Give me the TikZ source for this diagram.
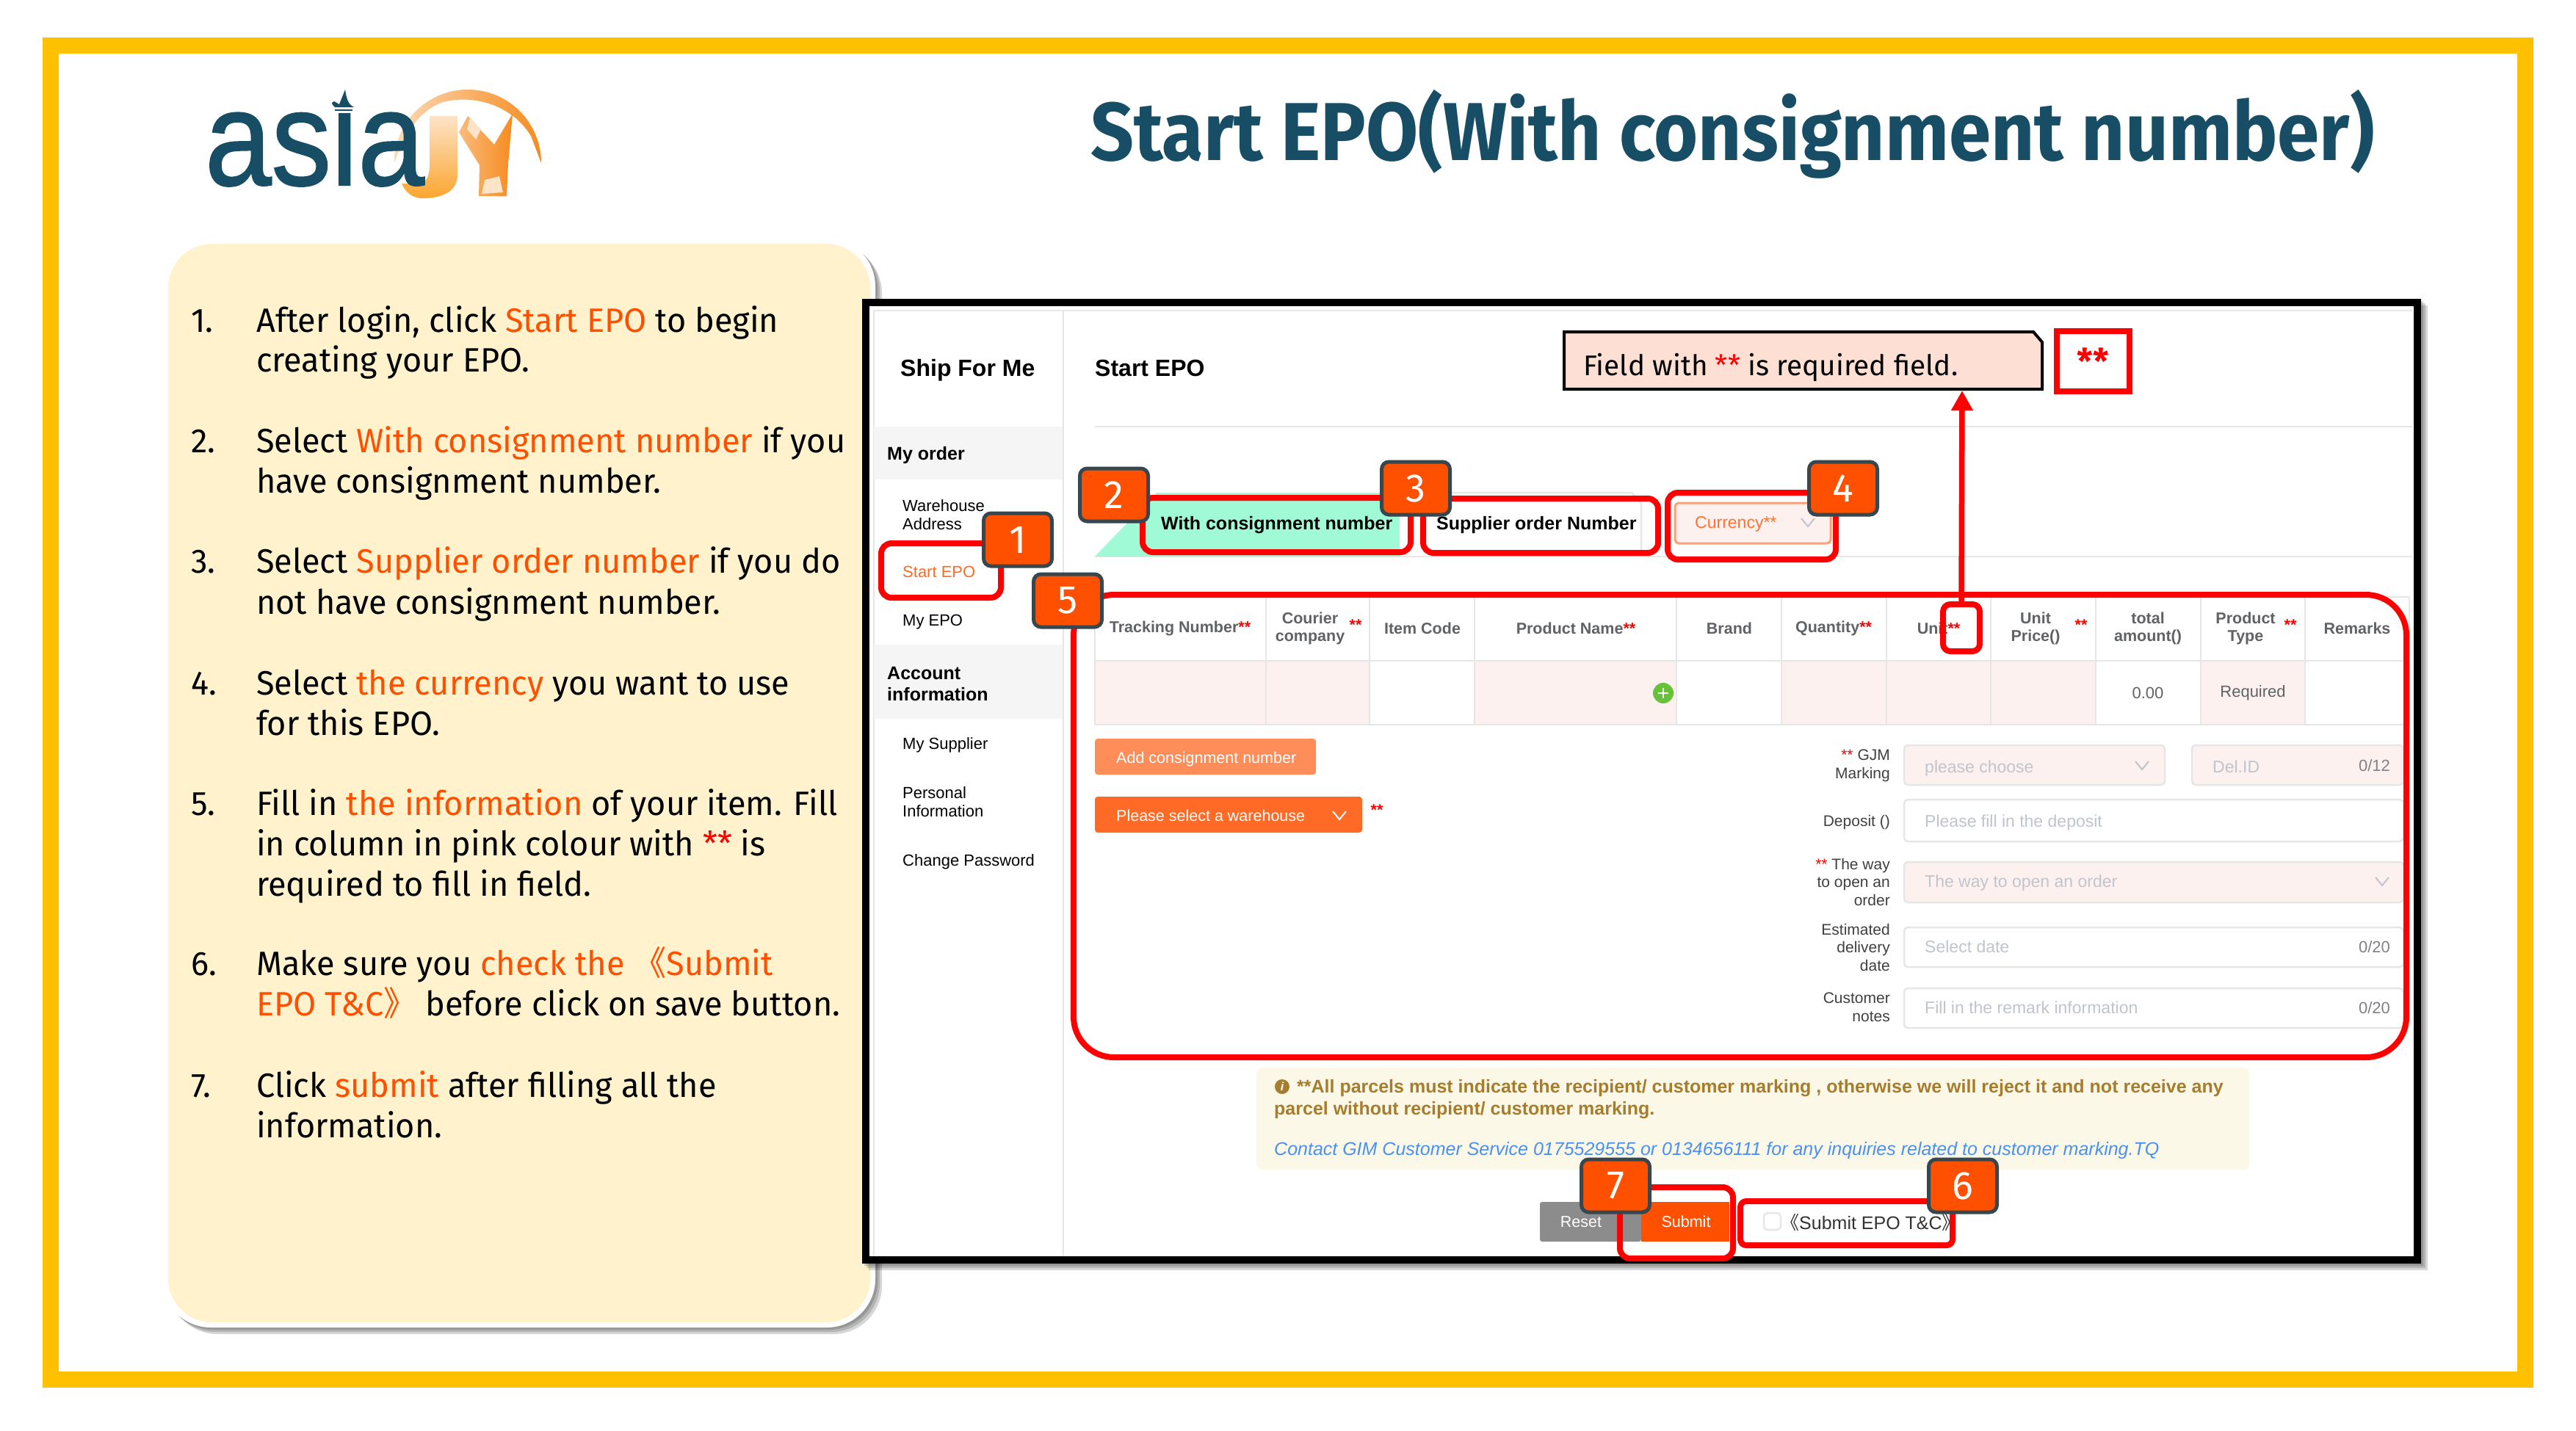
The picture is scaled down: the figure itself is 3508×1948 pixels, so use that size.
\documentclass[tikz,border=0pt]{standalone}
\usepackage{fontspec}
\setmainfont{Fira Sans}
\newfontfamily\uifont{Liberation Sans}
\newfontfamily\logofont[FakeBold=1.2]{Liberation Sans}
\newfontfamily\cjk{Noto Sans CJK SC}
\usetikzlibrary{positioning,arrows.meta}
\definecolor{goldline}{HTML}{FFC000}
\definecolor{creampanel}{HTML}{FFF2CC}
\definecolor{titleblue}{HTML}{174E66}
\definecolor{stepred}{HTML}{FF0000}
\definecolor{steporange}{HTML}{FF5000}
\definecolor{badgeedge}{HTML}{37474F}
\definecolor{tabgreen}{HTML}{A0FAD6}
\definecolor{pinkcell}{HTML}{FDF1F0}
\definecolor{cellline}{HTML}{E6E6E6}
\definecolor{headgrey}{HTML}{606266}
\definecolor{holdgrey}{HTML}{C0C4CC}
\definecolor{noticefill}{HTML}{FCF8E8}
\definecolor{noticetext}{HTML}{A67C2D}
\definecolor{noticeblue}{HTML}{4A90F0}
\definecolor{calloutfill}{HTML}{FDE0D3}
\definecolor{peach}{HTML}{FDE3C8}
\definecolor{globeorange}{HTML}{F68B1F}
\definecolor{globeamber}{HTML}{FBA62F}
\definecolor{plusgreen}{HTML}{67C23A}
\tikzset{
  px/.style={x=1pt,y=-1pt},
  bodyline/.style={anchor=mid west,inner sep=0pt,yshift=-13pt,transform shape,xscale=.98,font=\fontsize{46}{50}\selectfont},
  stepnum/.style={bodyline},
  side/.style={anchor=west,inner sep=0pt,yshift=-4pt,align=left,font=\uifont\fontsize{22}{24.5}\selectfont},
  sidehead/.style={side,font=\uifont\bfseries\fontsize{25}{29}\selectfont},
  pagehead/.style={anchor=mid west,inner sep=0pt,yshift=-9pt,font=\uifont\bfseries\fontsize{32}{36}\selectfont},
  tabtext/.style={anchor=mid west,inner sep=0pt,yshift=-6pt,font=\uifont\bfseries\fontsize{25}{29}\selectfont},
  colhead/.style={inner sep=0pt,align=center,text=headgrey,font=\uifont\bfseries\fontsize{21.5}{24.5}\selectfont},
  formlabel/.style={anchor=east,inner sep=0pt,align=right,text=black!75,font=\uifont\fontsize{21}{24.5}\selectfont},
  holder/.style={anchor=mid west,inner sep=0pt,yshift=-6pt,text=holdgrey,font=\uifont\fontsize{23}{26}\selectfont},
  counter/.style={anchor=mid east,inner sep=0pt,yshift=-6pt,text=headgrey!80,font=\uifont\fontsize{22}{26}\selectfont},
  btntext/.style={inner sep=0pt,text=white,font=\uifont\fontsize{21.5}{26}\selectfont},
  noticeline/.style={anchor=mid west,inner sep=0pt,yshift=-6pt,font=\uifont\fontsize{25}{28}\selectfont},
  badge/.style={draw=badgeedge,fill=steporange,line width=5pt,rounded corners=10pt,minimum width=93pt,minimum height=72pt,
    inner sep=0pt,text=white,font=\fontsize{54}{56}\selectfont},
  redbox/.style={draw=stepred,line width=8pt,rounded corners=14pt},
  field/.style={draw=cellline,line width=2.5pt,rounded corners=5pt},
  pinkfield/.style={field,fill=pinkcell},
  rule/.style={draw=cellline,line width=2.5pt},
  softdrop/.style={fill=black,opacity=.16,rounded corners=#1},
  chevron/.style={draw=#1,line width=2pt}
}
\newcommand{\hi}[1]{{\color{steporange}#1}}
\newcommand{\req}{{\color{stepred}**}}
\begin{document}
\begin{tikzpicture}[px,>={Triangle[length=27pt,width=28pt]}]
\useasboundingbox (0,0) rectangle (3508,1948);
\draw[goldline,line width=22pt] (69,62) rectangle (3439,1879);

\shade[left color=peach!90!globeorange,right color=globeorange]
  (537,222) arc[start angle=180,end angle=360,radius=100] -- (723,185)
  .. controls (695,140) and (640,128) .. (600,140) .. controls (565,155) and (548,190) .. (537,222) -- cycle;
\shade[top color=peach,bottom color=globeamber]
  (585,158) -- (623,158) -- (623,240) .. controls (622,262) and (600,270) .. (575,270)
  .. controls (562,270) and (552,262) .. (547,250) -- (570,250) .. controls (580,250) and (585,240) .. (585,225) -- cycle;
\shade[left color=peach!55!globeorange,right color=globeorange]
  (637,158) -- (673,197) -- (698,155) -- (692,223) -- (690,267) -- (652,267) -- (653,225) -- (625,180) -- cycle;
\fill[peach] (660,245) -- (680,240) -- (685,262) -- (656,264) -- cycle;
\fill[peach] (640,160) -- (655,176) -- (648,190) -- (636,176) -- cycle;
\node[anchor=base west,inner sep=0pt,text=titleblue,transform shape,xscale=.89,font=\logofont\fontsize{183}{183}\selectfont] (logoasia) at (279,252) {asia};
\fill[white] (448,108) rectangle (488,153);
\fill[titleblue] (470,122) .. controls (472,135) and (474,142) .. (482,146) -- (456,146) .. controls (452,142) and (450,140) .. (455,138) -- (462,142) -- cycle;
\draw[titleblue,line width=2pt] (456,150) -- (480,150);

\node[anchor=base west,inner sep=0pt,text=titleblue,transform shape,xscale=.92,font=\bfseries\fontsize{112}{116}\selectfont] (title) at (1485,218) {Start EPO(With consignment number)};

\foreach \d in {9,6,3}
  \fill[softdrop=66pt] (221+\d,324+\d) rectangle (1192+\d,1808+\d);
\fill[white,rounded corners=66pt] (221,324) rectangle (1192,1808);
\fill[creampanel,rounded corners=60pt] (229,332) rectangle (1185,1801);

\node[stepnum] (n1) at (260,437) {1.};
\node[bodyline] (l1a) at (349,437) {After login, click \hi{Start EPO} to begin};
\node[bodyline] (l1b) at (349,491) {creating your EPO.};
\node[stepnum] (n2) at (260,601) {2.};
\node[bodyline] (l2a) at (349,601) {Select \hi{With consignment number} if you};
\node[bodyline] (l2b) at (349,656) {have consignment number.};
\node[stepnum] (n3) at (260,765) {3.};
\node[bodyline] (l3a) at (349,765) {Select \hi{Supplier order number} if you do};
\node[bodyline] (l3b) at (349,821) {not have consignment number.};
\node[stepnum] (n4) at (260,931) {4.};
\node[bodyline] (l4a) at (349,931) {Select \hi{the currency} you want to use};
\node[bodyline] (l4b) at (349,986) {for this EPO.};
\node[stepnum] (n5) at (260,1095) {5.};
\node[bodyline] (l5a) at (349,1095) {Fill in \hi{the information} of your item. Fill};
\node[bodyline] (l5b) at (349,1150) {in column in pink colour with \req{} is};
\node[bodyline] (l5c) at (349,1205) {required to fill in field.};
\node[stepnum] (n6) at (260,1313) {6.};
\node[bodyline] (l6a) at (349,1313) {Make sure you \hi{check the {\cjk 《}Submit}};
\node[bodyline] (l6b) at (349,1368) {\hi{EPO T\&C{\cjk 》}} before click on save button.};
\node[stepnum] (n7) at (260,1479) {7.};
\node[bodyline] (l7a) at (349,1479) {Click \hi{submit} after filling all the};
\node[bodyline] (l7b) at (349,1534) {information.};

\foreach \d in {9,6,3}
  \fill[softdrop=0pt] (1174+\d,407+\d) rectangle (3297+\d,1721+\d);
\fill[white] (1178,412) rectangle (3292,1716);

\draw[rule] (1190,423) -- (3285,423);
\draw[rule] (1190,423) -- (1190,1711);
\draw[rule] (1448,423) -- (1448,1711);
\draw[rule] (1491,581) -- (3285,581);
\draw[rule] (1491,758) -- (3285,758);
\fill[black!4] (1190,581) rectangle (1447,653);
\fill[black!4] (1190,878) rectangle (1447,979);

\node[pagehead] (shipforme) at (1226,501) {Ship For Me};
\node[pagehead] (startepo) at (1491,501) {Start EPO};
\node[sidehead] (myorder) at (1208,616) {My order};
\node[side] (warehouse) at (1229,697) {Warehouse\\Address};
\node[side,text=steporange!85] (sidestart) at (1229,775) {Start EPO};
\node[side] (myepo) at (1229,843) {My EPO};
\node[sidehead] (account) at (1208,928) {Account\\information};
\node[side] (supplier) at (1229,1011) {My Supplier};
\node[side] (personal) at (1229,1088) {Personal\\Information};
\node[side] (password) at (1229,1170) {Change Password};

\fill[tabgreen] (1491,758) -- (1575,671) -- (1906,671) -- (1906,758) -- cycle;
\draw[rule] (1906,671) -- (2222,671) -- (2235,685) -- (2235,758);
\node[tabtext] (withtab) at (1581,713) {With consignment number};
\node[tabtext] (suppliertab) at (1956,713) {Supplier order Number};

\draw[draw=steporange!55,fill=pinkcell,line width=3pt,rounded corners=5pt] (2281,685) rectangle (2493,740);
\node[anchor=mid west,inner sep=0pt,yshift=-6pt,text=steporange!80,font=\uifont\fontsize{23}{26}\selectfont] (currency) at (2308,711) {Currency**};
\draw[chevron=holdgrey] (2453,706) -- (2462,717) -- (2471,706);

\fill[pinkcell] (1491,900) rectangle (1865,987);
\fill[pinkcell] (2008,900) rectangle (2283,987);
\fill[pinkcell] (2426,900) rectangle (2854,987);
\fill[pinkcell] (2997,900) rectangle (3139,987);
\draw[rule] (1491,813) -- (3281,813);
\draw[rule] (1491,900) -- (3281,900);
\draw[rule] (1491,987) -- (3281,987);
\foreach \c in {1491,1724,1865,2008,2283,2426,2569,2711,2854,2997,3139,3281}
  \draw[rule] (\c,813) -- (\c,987);

\node[colhead] (htrack) at (1607,856) {Tracking Number\req};
\node[colhead] (hcourier) at (1784,856) {Courier\\company};
\node[colhead,text=stepred] (hcourierreq) at (1846,851) {**};
\node[colhead] (hitem) at (1937,856) {Item Code};
\node[colhead] (hproduct) at (2146,856) {Product Name\req};
\node[colhead] (hbrand) at (2355,856) {Brand};
\node[colhead] (hqty) at (2497,856) {Quantity\req};
\node[colhead] (hunit) at (2640,856) {Unit\req};
\node[colhead] (hprice) at (2772,856) {Unit\\Price()};
\node[colhead,text=stepred] (hpricereq) at (2834,851) {**};
\node[colhead] (htotal) at (2925,856) {total\\amount()};
\node[colhead] (htype) at (3058,856) {Product\\Type};
\node[colhead,text=stepred] (htypereq) at (3119,851) {**};
\node[colhead] (hremarks) at (3210,856) {Remarks};
\node[colhead,font=\uifont\fontsize{22}{26}\selectfont] (rtotal) at (2925,944) {0.00};
\node[colhead,font=\uifont\fontsize{22}{26}\selectfont] (rtype) at (3068,944) {Required};
\fill[plusgreen] (2265,944) circle (14);
\draw[white,line width=2.5pt] (2258,944) -- (2272,944) (2265,937) -- (2265,951);

\fill[steporange!65!white,rounded corners=4pt] (1491,1006) rectangle (1792,1055);
\node[btntext,anchor=mid west,yshift=-6pt] (addnumber) at (1520,1031) {Add consignment number};
\fill[steporange!85!white,rounded corners=4pt] (1491,1085) rectangle (1855,1134);
\node[btntext,anchor=mid west,yshift=-6pt] (warehousebtn) at (1520,1110) {Please select a warehouse};
\draw[chevron=white] (1815,1105) -- (1824,1116) -- (1833,1105);
\node[colhead,text=stepred] (warehousereq) at (1875,1103) {**};

\node[formlabel] (lgjm) at (2574,1043) {\req{} GJM\\Marking};
\node[formlabel] (ldeposit) at (2574,1120) {Deposit ()};
\node[formlabel] (lway) at (2574,1201) {\req{} The way\\to open an\\order};
\node[formlabel] (ldate) at (2574,1290) {Estimated\\delivery\\date};
\node[formlabel] (lnotes) at (2574,1372) {Customer\\notes};

\draw[pinkfield] (2593,1015) rectangle (2948,1069);
\draw[pinkfield] (2985,1015) rectangle (3273,1069);
\draw[field] (2593,1089) rectangle (3273,1146);
\draw[pinkfield] (2593,1174) rectangle (3273,1229);
\draw[field] (2593,1263) rectangle (3273,1317);
\draw[field] (2593,1346) rectangle (3273,1400);
\node[holder] (hchoose) at (2621,1044) {please choose};
\draw[chevron=holdgrey] (2908,1037) -- (2917,1048) -- (2926,1037);
\node[holder] (hdelid) at (3013,1044) {Del.ID};
\node[counter] (c12) at (3255,1042) {0/12};
\node[holder] (hdeposit) at (2621,1118) {Please fill in the deposit};
\node[holder] (hway) at (2621,1200) {The way to open an order};
\draw[chevron=holdgrey] (3235,1195) -- (3244,1206) -- (3253,1195);
\node[holder] (hdate) at (2621,1289) {Select date};
\node[counter] (c20a) at (3255,1289) {0/20};
\node[holder] (hremark) at (2621,1372) {Fill in the remark information};
\node[counter] (c20b) at (3255,1372) {0/20};

\fill[noticefill,rounded corners=8pt] (1711,1454) rectangle (3063,1593);
\fill[noticetext] (1746,1480) circle (10);
\node[inner sep=0pt,text=white,font=\uifont\bfseries\itshape\fontsize{16}{18}\selectfont] (infoicon) at (1746,1480) {i};
\node[noticeline,text=noticetext,font=\uifont\bfseries\fontsize{25}{28}\selectfont] (notice1) at (1766,1480) {**All parcels must indicate the recipient/ customer marking , otherwise we will reject it and not receive any};
\node[noticeline,text=noticetext,font=\uifont\bfseries\fontsize{25}{28}\selectfont] (notice2) at (1735,1510) {parcel without recipient/ customer marking.};
\node[noticeline,text=noticeblue,font=\uifont\itshape\fontsize{25}{28}\selectfont] (notice3) at (1735,1565) {Contact GIM Customer Service 0175529555 or 0134656111 for any inquiries related to customer marking.TQ};

\fill[black!45,rounded corners=3pt] (2097,1637) rectangle (2235,1691);
\node[btntext] (resetbtn) at (2153,1664) {Reset};
\fill[steporange] (2235,1637) rectangle (2355,1691);
\node[btntext] (submitbtn) at (2296,1664) {Submit};
\draw[field] (2402,1652) rectangle (2425,1675);
\node[anchor=mid west,inner sep=0pt,yshift=-9pt,text=black!80,font=\uifont\fontsize{25}{27}\selectfont] (submittc) at (2425,1663) {{\cjk 《}Submit EPO T\&C{\cjk 》}};

\draw[black,line width=10pt] (1179,412) rectangle (3292,1716);

\draw[redbox] (1200,740) rectangle (1363,814);
\draw[redbox] (1556,678) rectangle (1921,752);
\draw[redbox] (1938,679) rectangle (2258,753);
\draw[redbox] (2271,671) rectangle (2500,762);
\draw[redbox,rounded corners=55pt] (1462,810) rectangle (3277,1440);
\draw[redbox] (2206,1617) rectangle (2360,1714);
\draw[redbox,rounded corners=8pt] (2370,1636) rectangle (2659,1696);

\draw[draw=black,fill=calloutfill,line width=4pt] (2130,452) -- (2769,452) -- (2781,466) -- (2781,530) -- (2130,530) -- cycle;
\coordinate (calloutpoint) at (2672,532);
\node[anchor=mid west,inner sep=0pt,yshift=-10pt,font=\fontsize{38.7}{42}\selectfont] (callout) at (2156,499) {Field with \req{} is required field.};
\node[draw=stepred,line width=8pt,minimum width=99pt,minimum height=82pt,inner sep=0pt,font=\bfseries\fontsize{48}{48}\selectfont,text=stepred] (reqsample) at (2850,492) {\raisebox{-8pt}{**}};
\node[redbox,rounded corners=10pt,minimum width=50pt,minimum height=64pt] (unitbox) at (2671,855) {};
\draw[stepred,line width=7.5pt,->] (unitbox.north) -- (calloutpoint);

\node[badge] (badge1) at (1386,735) {1};
\node[badge] (badge2) at (1517,674) {2};
\node[badge] (badge3) at (1928,665) {3};
\node[badge] (badge4) at (2510,665) {4};
\node[badge] (badge5) at (1454,818) {5};
\node[badge] (badge6) at (2673,1615) {6};
\node[badge] (badge7) at (2200,1615) {7};
\end{tikzpicture}
\end{document}
